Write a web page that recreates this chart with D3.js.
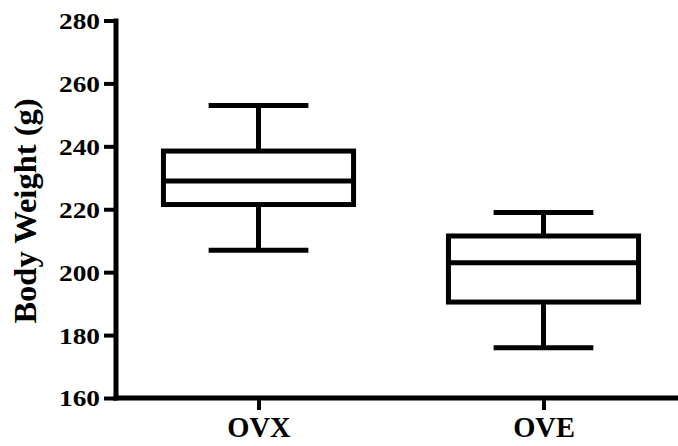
<!DOCTYPE html>
<html>
<head>
<meta charset="utf-8">
<script src="https://cdn.jsdelivr.net/npm/d3@7"></script>
<style>
  html, body { margin: 0; padding: 0; background: #fff; }
  svg { display: block; }
</style>
</head>
<body>
<svg id="chart" width="678" height="446"></svg>
<script>
// Groups and their box-plot summaries (grams)
const groups  = ["OVX", "OVE"];
const minima  = [207, 176];
const q1s     = [221.5, 190.5];
const medians = [229, 203];
const q3s     = [238.5, 211.5];
const maxima  = [253, 219];
const yTicks  = [160, 180, 200, 220, 240, 260, 280];

const FONT = "'Liberation Serif', 'Times New Roman', serif";
const svg = d3.select("#chart");
const W = 678, H = 446;
const plotLeft = 116, plotTop = 20.5, plotBottom = 398;

const y = d3.scaleLinear().domain([160, 280]).range([plotBottom, plotTop]);
const x = d3.scalePoint().domain(groups).range([plotLeft, 686]).padding(0.5);
const step = x.step();
const boxW = step * 0.667;
const capW = step * 0.35;
const lw = 5;

function styleText(sel, size) {
  sel.style("font-family", FONT).style("font-weight", "bold")
     .style("font-size", size + "px").attr("fill", "#000");
}

// Y axis
const yAxis = d3.axisLeft(y).tickValues(yTicks).tickSize(12).tickPadding(4).tickSizeOuter(0);
const gy = svg.append("g").attr("transform", `translate(${plotLeft},0)`).call(yAxis);
gy.attr("font-family", null).attr("font-size", null);
gy.select(".domain").attr("stroke", "#000").attr("stroke-width", lw).attr("d", `M0,${plotTop - 2}V${plotBottom + 2.5}`);
gy.selectAll(".tick line").attr("stroke", "#000").attr("stroke-width", 4);
gy.selectAll(".tick text").call(styleText, 24).attr("dy", "0.33em")
  .attr("textLength", 41).attr("lengthAdjust", "spacingAndGlyphs");

// X axis
const xAxis = d3.axisBottom(x).tickSize(12).tickPadding(4).tickSizeOuter(0);
const gx = svg.append("g").attr("transform", `translate(0,${plotBottom})`).call(xAxis);
gx.attr("font-family", null).attr("font-size", null);
gx.select(".domain").attr("stroke", "#000").attr("stroke-width", lw).attr("d", `M${plotLeft - 2.5},0H${W}`);
gx.selectAll(".tick line").attr("stroke", "#000").attr("stroke-width", 4);
gx.selectAll(".tick text").call(styleText, 28.5).attr("dy", 23);

// Y axis title
svg.append("text")
  .attr("transform", `translate(36,211) rotate(-90)`)
  .attr("text-anchor", "middle")
  .call(styleText, 32.5)
  .text("Body Weight (g)");

// Boxes
const data = groups.map((g, i) => ({ g, min: minima[i], q1: q1s[i], med: medians[i], q3: q3s[i], max: maxima[i] }));
const box = svg.append("g").attr("stroke", "#000").attr("stroke-width", lw).attr("fill", "none");
data.forEach(d => {
  const cx = x(d.g);
  const g = box.append("g");
  // whiskers
  g.append("line").attr("x1", cx).attr("x2", cx).attr("y1", y(d.max)).attr("y2", y(d.q3));
  g.append("line").attr("x1", cx).attr("x2", cx).attr("y1", y(d.q1)).attr("y2", y(d.min));
  // caps
  g.append("line").attr("x1", cx - capW / 2).attr("x2", cx + capW / 2).attr("y1", y(d.max)).attr("y2", y(d.max));
  g.append("line").attr("x1", cx - capW / 2).attr("x2", cx + capW / 2).attr("y1", y(d.min)).attr("y2", y(d.min));
  // box
  g.append("rect").attr("x", cx - boxW / 2).attr("width", boxW)
    .attr("y", y(d.q3)).attr("height", y(d.q1) - y(d.q3)).attr("fill", "#fff");
  // median
  g.append("line").attr("x1", cx - boxW / 2).attr("x2", cx + boxW / 2).attr("y1", y(d.med)).attr("y2", y(d.med));
});
</script>
</body>
</html>
